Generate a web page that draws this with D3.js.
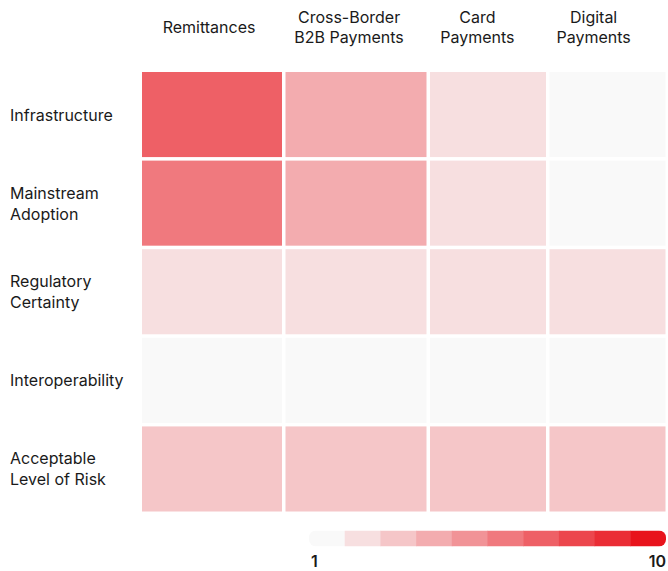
<!DOCTYPE html>
<html>
<head>
<meta charset="utf-8">
<script src="https://cdn.jsdelivr.net/npm/d3@7"></script>
<style>
  html, body { margin: 0; padding: 0; background: #ffffff; }
  svg { display: block; }
  text { font-family: Inter, "Noto Sans", sans-serif; fill: #1a1a1a; }
</style>
</head>
<body>
<svg id="chart" width="668" height="571"></svg>
<script>
// Column and row categories
const columns = ["Remittances", "Cross-Border B2B Payments", "Card Payments", "Digital Payments"];
const columnLabels = [["Remittances"], ["Cross-Border", "B2B Payments"], ["Card", "Payments"], ["Digital", "Payments"]];
const rows = ["Infrastructure", "Mainstream Adoption", "Regulatory Certainty", "Interoperability", "Acceptable Level of Risk"];
const rowLabels = [["Infrastructure"], ["Mainstream", "Adoption"], ["Regulatory", "Certainty"], ["Interoperability"], ["Acceptable", "Level of Risk"]];

// Scores (1–10) per row, in column order
const infrastructure       = [7, 4, 2, 1];
const mainstreamAdoption   = [6, 4, 2, 1];
const regulatoryCertainty  = [2, 2, 2, 2];
const interoperability     = [1, 1, 1, 1];
const acceptableRisk       = [3, 3, 3, 3];

// Legend scale steps
const legendSteps = [1, 2, 3, 4, 5, 6, 7, 8, 9, 10];
const legendTicks = ["1", "10"];

const rowValues = [infrastructure, mainstreamAdoption, regulatoryCertainty, interoperability, acceptableRisk];
const cells = [];
rows.forEach((r, i) => columns.forEach((c, j) => cells.push({ row: r, col: c, value: rowValues[i][j] })));

const svg = d3.select("#chart");

// Layout
const gridLeft = 142, gridRight = 665.5, gridTop = 72, gridBottom = 511.5, gap = 3.5;
const colWeights = [140, 141, 116, 116];

// Column scale with unequal widths
const usable = gridRight - gridLeft - gap * (columns.length - 1);
const wsum = d3.sum(colWeights);
const colW = colWeights.map(w => w / wsum * usable);
const colX = [];
colW.reduce((acc, w, i) => { colX.push(acc); return acc + w + gap; }, gridLeft);
const x = d3.scaleOrdinal().domain(columns).range(colX);
const xw = d3.scaleOrdinal().domain(columns).range(colW);

const y = d3.scaleBand()
  .domain(rows)
  .range([gridTop, gridBottom])
  .paddingInner(gap / ((gridBottom - gridTop) / rows.length))
  .paddingOuter(0);

const color = d3.scaleLinear()
  .domain([1, 10])
  .range(["#f9f9f9", "#e8131c"])
  .interpolate(d3.interpolateRgb);

// Heatmap cells
svg.append("g")
  .selectAll("rect")
  .data(cells)
  .join("rect")
  .attr("x", d => x(d.col))
  .attr("y", d => y(d.row))
  .attr("width", d => xw(d.col))
  .attr("height", y.bandwidth())
  .attr("fill", d => color(d.value));

// Column headers
const headerX = d3.scaleLinear().domain([gridLeft, gridRight]).range([141, 650]);
const lineH = 20;
svg.append("g")
  .selectAll("text")
  .data(columns)
  .join("text")
  .attr("text-anchor", "middle")
  .attr("font-size", 16)
  .attr("x", d => headerX(x(d) + xw(d) / 2))
  .attr("y", (d, i) => columnLabels[i].length === 1 ? 33 : 23)
  .each(function (d, i) {
    const t = d3.select(this);
    columnLabels[i].forEach((line, k) => {
      t.append("tspan")
        .attr("x", headerX(x(d) + xw(d) / 2))
        .attr("dy", k === 0 ? 0 : lineH)
        .text(line);
    });
  });

// Row labels
const rowLineH = 21;
svg.append("g")
  .selectAll("text")
  .data(rows)
  .join("text")
  .attr("font-size", 16)
  .attr("x", 10)
  .attr("y", (d, i) => {
    const n = rowLabels[i].length;
    return y(d) + y.bandwidth() / 2 + 6 - (n - 1) * rowLineH / 2;
  })
  .each(function (d, i) {
    const t = d3.select(this);
    rowLabels[i].forEach((line, k) => {
      t.append("tspan")
        .attr("x", 10)
        .attr("dy", k === 0 ? 0 : rowLineH)
        .text(line);
    });
  });

// Legend
const legLeft = 309, legRight = 666, legTop = 530.5, legH = 16;
const lx = d3.scaleBand().domain(legendSteps).range([legLeft, legRight]);
const defs = svg.append("defs");
defs.append("clipPath").attr("id", "legend-clip")
  .append("rect")
  .attr("x", legLeft).attr("y", legTop)
  .attr("width", legRight - legLeft).attr("height", legH)
  .attr("rx", 7).attr("ry", 7);

svg.append("g")
  .attr("clip-path", "url(#legend-clip)")
  .selectAll("rect")
  .data(legendSteps)
  .join("rect")
  .attr("x", d => lx(d))
  .attr("y", legTop)
  .attr("width", lx.bandwidth() + 0.5)
  .attr("height", legH)
  .attr("fill", d => color(d));

svg.append("text")
  .attr("x", legLeft + 2)
  .attr("y", 567)
  .attr("font-size", 16)
  .attr("font-weight", 600)
  .text(legendTicks[0]);

svg.append("text")
  .attr("x", legRight)
  .attr("y", 567)
  .attr("text-anchor", "end")
  .attr("font-size", 16)
  .attr("font-weight", 600)
  .text(legendTicks[1]);
</script>
</body>
</html>
